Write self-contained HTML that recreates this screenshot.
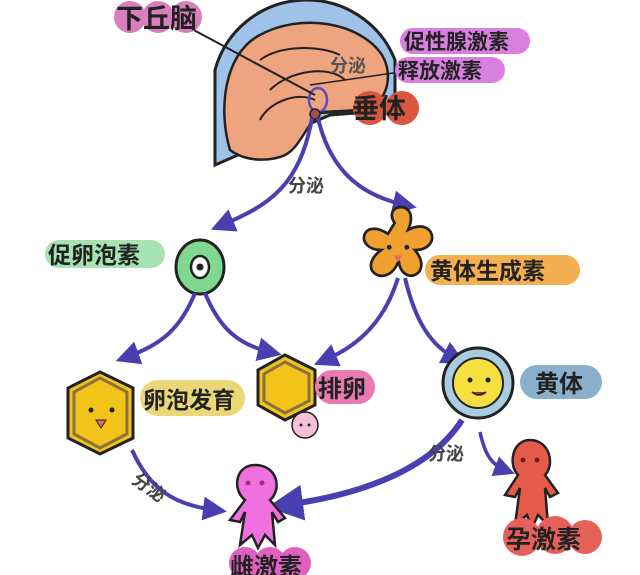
<!DOCTYPE html>
<html><head><meta charset="utf-8"><style>
html,body{margin:0;padding:0;background:#fff;}
svg{display:block;}
text{font-family:"Liberation Sans","Noto Sans CJK SC",sans-serif;font-weight:bold;fill:#222;}
</style></head><body>
<svg width="640" height="575" viewBox="0 0 640 575" xmlns="http://www.w3.org/2000/svg">
<defs>
<marker id="ah" markerWidth="6" markerHeight="6" refX="3" refY="3" orient="auto" markerUnits="strokeWidth">
<path d="M0,0 L6,3 L0,6 Z" fill="#4a3fb0"/></marker>
</defs>
<!-- brain -->
<path d="M215,165 L215,70 A95,95 0 0 1 395,60 L395,110 L330,115 Z" fill="#9ec2e8" stroke="#222" stroke-width="3"/>
<path d="M230,150 C218,110 224,55 258,36 C300,12 360,22 382,55 C394,75 388,105 362,110 L322,112 C306,122 300,152 280,157 C263,162 243,160 230,150 Z" fill="#eea47e" stroke="#222" stroke-width="2.5"/>
<path d="M270,90 C290,70 330,65 345,80 M260,120 C270,100 300,92 315,100 M260,60 C280,45 320,45 340,55" fill="none" stroke="#222" stroke-width="2"/>
<ellipse cx="318" cy="100" rx="9" ry="12" fill="none" stroke="#5a4bc0" stroke-width="2.5"/>
<circle cx="315" cy="114" r="5" fill="#a05050" stroke="#222" stroke-width="1.5"/>
<line x1="190" y1="28" x2="315" y2="95" stroke="#222" stroke-width="2"/>
<line x1="310" y1="85" x2="400" y2="72" stroke="#222" stroke-width="1.5"/>
<line x1="320" y1="113" x2="360" y2="110" stroke="#222" stroke-width="2.5"/>
<!-- labels top -->
<g fill="#d97fbf"><circle cx="130" cy="17" r="16"/><circle cx="158" cy="17" r="16"/><circle cx="186" cy="17" r="16"/></g>
<text x="116" y="28" font-size="27">下丘脑</text>
<rect x="400" y="28" width="130" height="26" rx="13" fill="#d97fe0"/>
<text x="404" y="49" font-size="21">促性腺激素</text>
<rect x="395" y="57" width="110" height="26" rx="13" fill="#d97fe0"/>
<text x="398" y="78" font-size="21">释放激素</text>
<text x="330" y="72" font-size="18" style="fill:#555">分泌</text>
<g fill="#d9573f"><circle cx="370" cy="108" r="17"/><circle cx="402" cy="108" r="17"/></g>
<text x="352" y="118" font-size="27">垂体</text>
<!-- arrows from pituitary -->
<path d="M312,118 C300,185 270,205 222,225" fill="none" stroke="#4a3fb0" stroke-width="4" marker-end="url(#ah)"/>
<path d="M318,118 C330,170 360,195 405,205" fill="none" stroke="#4a3fb0" stroke-width="4" marker-end="url(#ah)"/>
<text x="288" y="192" font-size="18" style="fill:#444">分泌</text>
<!-- FSH -->
<rect x="45" y="240" width="120" height="28" rx="14" fill="#a6e3b0"/>
<text x="48" y="263" font-size="23">促卵泡素</text>
<ellipse cx="200" cy="267" rx="24" ry="27" fill="#80d890" stroke="#222" stroke-width="3"/>
<ellipse cx="200" cy="267" rx="9" ry="11" fill="#fff" stroke="#222" stroke-width="2.5"/>
<circle cx="200" cy="267" r="3.5" fill="#222"/>
<!-- LH flower -->
<g transform="translate(396,250) scale(1.35) translate(-396,-250)">
<path d="M395,230 C385,215 415,212 405,235 C425,225 430,250 410,250 C425,268 400,278 398,258 C390,280 365,265 385,250 C365,250 370,225 390,238 Z" fill="#f0a030" stroke="#222" stroke-width="2"/>
<circle cx="391" cy="248" r="1.8" fill="#222"/><circle cx="404" cy="248" r="1.8" fill="#222"/>
<path d="M394,254 L401,254 L397.5,259 Z" fill="#e07060"/>
</g>
<rect x="425" y="255" width="155" height="30" rx="15" fill="#f4b050"/>
<text x="430" y="279" font-size="23">黄体生成素</text>
<!-- arrows second level -->
<path d="M195,293 C180,330 160,345 127,357" fill="none" stroke="#4a3fb0" stroke-width="4" marker-end="url(#ah)"/>
<path d="M205,293 C220,330 240,345 270,352" fill="none" stroke="#4a3fb0" stroke-width="4" marker-end="url(#ah)"/>
<path d="M398,278 C385,320 360,345 325,360" fill="none" stroke="#4a3fb0" stroke-width="4" marker-end="url(#ah)"/>
<path d="M405,278 C415,320 430,345 455,358" fill="none" stroke="#4a3fb0" stroke-width="4" marker-end="url(#ah)"/>
<!-- hexagon left -->
<polygon points="100,372 133,388 133,438 100,454 68,438 68,388" fill="#f2c41a" stroke="#222" stroke-width="3"/>
<polygon points="100,378 127,392 127,434 100,448 74,434 74,392" fill="none" stroke="#8a7040" stroke-width="3"/>
<circle cx="91" cy="410" r="2.5" fill="#222"/><circle cx="112" cy="410" r="2.5" fill="#222"/>
<path d="M96,420 L106,420 L101,428 Z" fill="#e07060" stroke="#222" stroke-width="1"/>
<rect x="140" y="380" width="105" height="36" rx="18" fill="#ead878"/>
<text x="143" y="408" font-size="23">卵泡发育</text>
<!-- hexagon middle -->
<polygon points="285,355 315,370 315,405 285,420 258,405 258,370" fill="#f2c41a" stroke="#222" stroke-width="3"/>
<polygon points="285,362 309,374 309,401 285,413 264,401 264,374" fill="none" stroke="#8a7040" stroke-width="3"/>
<rect x="315" y="370" width="60" height="34" rx="17" fill="#e97ab4"/>
<text x="318" y="397" font-size="24">排卵</text>
<circle cx="305" cy="425" r="13" fill="#f6c0d8" stroke="#222" stroke-width="1.5"/>
<circle cx="301" cy="425" r="1.5" fill="#222"/><circle cx="309" cy="425" r="1.5" fill="#222"/>
<!-- corpus luteum -->
<circle cx="478" cy="383" r="35" fill="#a9cce0" stroke="#222" stroke-width="3"/>
<circle cx="478" cy="383" r="25" fill="#f5e040" stroke="#222" stroke-width="2"/>
<circle cx="470" cy="380" r="2.5" fill="#222"/><circle cx="488" cy="380" r="2.5" fill="#222"/>
<path d="M472,392 Q479,398 486,392" fill="#a03020" stroke="#222" stroke-width="1.5"/>
<rect x="520" y="365" width="82" height="34" rx="17" fill="#8bb0cc"/>
<text x="535" y="392" font-size="24">黄体</text>
<!-- bottom arrows -->
<path d="M132,450 C150,490 175,505 215,510" fill="none" stroke="#4a3fb0" stroke-width="4" marker-end="url(#ah)"/>
<text x="125" y="490" font-size="18" transform="rotate(35 140 495)" style="fill:#444">分泌</text>
<path d="M462,420 C430,470 360,495 285,505" fill="none" stroke="#4a3fb0" stroke-width="6" marker-end="url(#ah)"/>
<text x="428" y="460" font-size="18" style="fill:#444">分泌</text>
<path d="M480,432 C485,455 492,465 505,470" fill="none" stroke="#4a3fb0" stroke-width="3.5" marker-end="url(#ah)"/>
<!-- pink person -->
<path d="M255,465 C235,465 232,490 245,500 L230,520 L240,522 L245,512 L240,545 L252,535 L258,548 L265,535 L275,545 L272,512 L278,522 L285,518 L270,500 C282,490 278,465 255,465 Z" fill="#f070e0" stroke="#222" stroke-width="2.5"/>
<circle cx="248" cy="483" r="2.5" fill="#a03070"/><circle cx="262" cy="483" r="2.5" fill="#a03070"/>
<g fill="#e060c0"><circle cx="245" cy="563" r="16"/><circle cx="270" cy="563" r="16"/><circle cx="295" cy="563" r="16"/></g>
<text x="230" y="575" font-size="24">雌激素</text>
<!-- red person -->
<path d="M530,440 C512,440 508,465 518,475 L505,495 L515,497 L520,488 L515,525 L527,515 L532,528 L538,515 L548,525 L545,488 L550,497 L558,493 L545,475 C555,465 550,440 530,440 Z" fill="#e65a4a" stroke="#222" stroke-width="2.5"/>
<circle cx="523" cy="460" r="2.5" fill="#702020"/><circle cx="537" cy="460" r="2.5" fill="#702020"/>
<g fill="#e6605a"><circle cx="522" cy="537" r="19"/><circle cx="555" cy="535" r="19"/><circle cx="585" cy="537" r="17"/></g>
<text x="506" y="548" font-size="25">孕激素</text>
</svg>
</body></html>
